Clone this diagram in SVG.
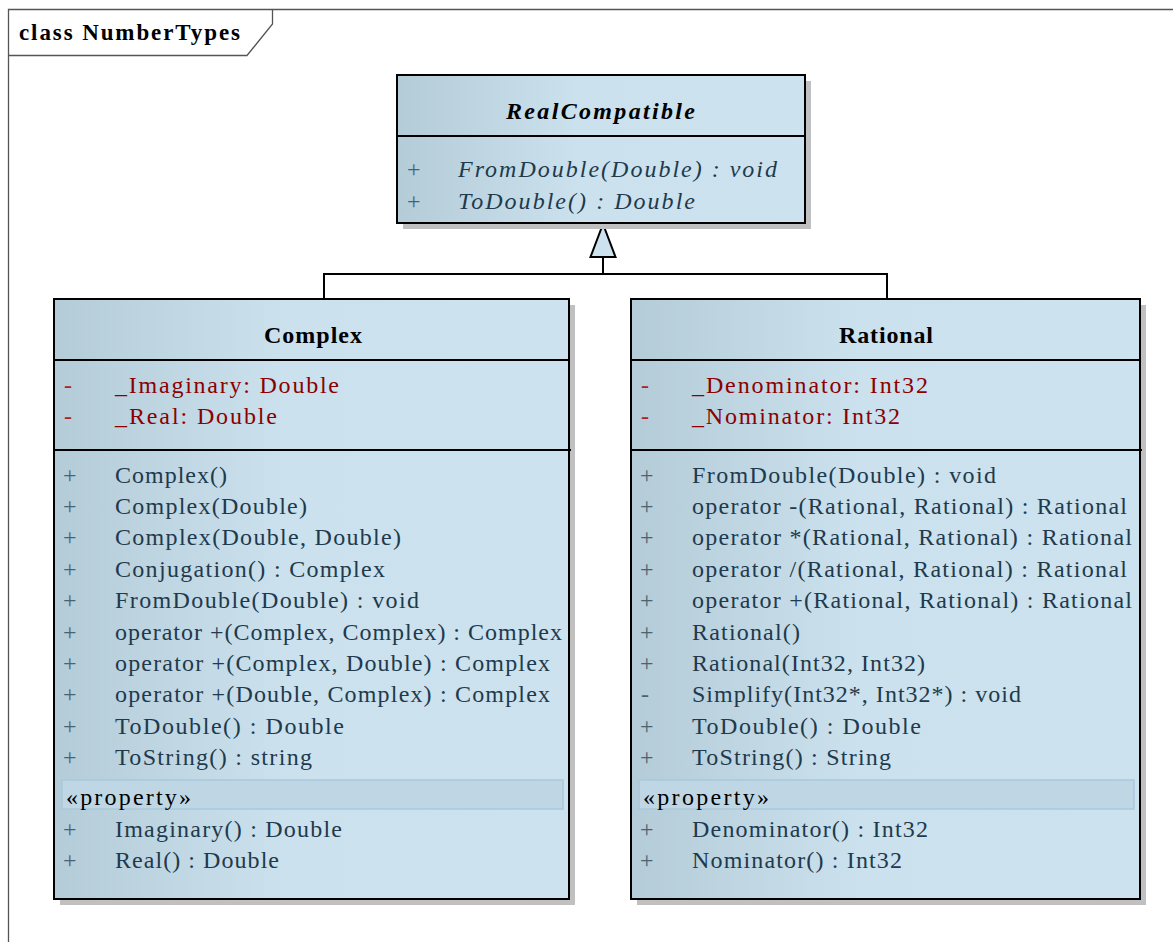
<svg xmlns="http://www.w3.org/2000/svg" width="1173" height="942" viewBox="0 0 1173 942">
  <defs>
    <linearGradient id="boxFill" x1="0" y1="0" x2="1" y2="0">
      <stop offset="0" stop-color="#b4cbd8"/>
      <stop offset="0.45" stop-color="#cbe1ee"/>
      <stop offset="1" stop-color="#cce2ef"/>
    </linearGradient>
  </defs>

  <rect width="1173" height="942" fill="#fff"/>

  <!-- diagram frame -->
  <g id="frame">
    <path d="M8.5,942 V9.5 H1173" fill="none" stroke="#555" stroke-width="1.3"/>
    <path d="M8.5,55.5 H247 L272.5,24 V9.5" fill="none" stroke="#555" stroke-width="1.3"/>
    <text x="19" y="40" style="font-family: 'Liberation Serif', serif; font-size: 23px; font-weight: bold" fill="#000" textLength="221" lengthAdjust="spacing">class NumberTypes</text>
  </g>

  <!-- generalization connectors -->
  <g id="connectors" stroke="#000" stroke-width="2">
    <path d="M324,299 V274 H887 V299" fill="none"/>
    <path d="M603,274 V257" fill="none"/>
    <polygon points="603,224 590.5,257 615.5,257" fill="#cce2ef"/>
  </g>

  <!-- interface RealCompatible -->
  <g id="RealCompatible">
    <rect x="403" y="81" width="408" height="148" fill="#c0c0c0"/>
    <rect x="397" y="75" width="408" height="148" fill="url(#boxFill)" stroke="#000" stroke-width="2"/>
    <line x1="397" y1="136" x2="805" y2="136" stroke="#000" stroke-width="2"/>
    <text x="506" y="119" style="font-family: 'Liberation Serif', serif; font-size: 24px; font-weight: bold; font-style: italic" fill="#000" textLength="189" lengthAdjust="spacing">RealCompatible</text>
    <text x="407" y="177" style="font-family: 'Liberation Serif', serif; font-size: 24px" fill="#4a6272">+</text>
    <text x="458" y="177" style="font-family: 'Liberation Serif', serif; font-size: 24px; font-style: italic" fill="#1e3a4c" textLength="319" lengthAdjust="spacing">FromDouble(Double) : void</text>
    <text x="407" y="209" style="font-family: 'Liberation Serif', serif; font-size: 24px" fill="#4a6272">+</text>
    <text x="458" y="209" style="font-family: 'Liberation Serif', serif; font-size: 24px; font-style: italic" fill="#1e3a4c" textLength="237" lengthAdjust="spacing">ToDouble() : Double</text>
  </g>

  <!-- class Complex -->
  <g id="Complex">
    <rect x="60" y="305" width="515" height="600" fill="#c0c0c0"/>
    <rect x="54" y="299" width="515" height="600" fill="url(#boxFill)" stroke="#000" stroke-width="2"/>
    <line x1="54" y1="360" x2="569" y2="360" stroke="#000" stroke-width="2"/>
    <line x1="54" y1="450" x2="571" y2="450" stroke="#000" stroke-width="2"/>
    <text x="264" y="343" style="font-family: 'Liberation Serif', serif; font-size: 24px; font-weight: bold" fill="#000" textLength="98" lengthAdjust="spacing">Complex</text>

    <text x="64" y="393" style="font-family: 'Liberation Serif', serif; font-size: 24px" fill="#b02020">-</text>
    <text x="115" y="393" style="font-family: 'Liberation Serif', serif; font-size: 24px" fill="#8b0000" textLength="224" lengthAdjust="spacing">_Imaginary: Double</text>
    <text x="64" y="424" style="font-family: 'Liberation Serif', serif; font-size: 24px" fill="#b02020">-</text>
    <text x="115" y="424" style="font-family: 'Liberation Serif', serif; font-size: 24px" fill="#8b0000" textLength="162" lengthAdjust="spacing">_Real: Double</text>

    <text x="63" y="483" style="font-family: 'Liberation Serif', serif; font-size: 24px" fill="#4a6272">+</text>
    <text x="115" y="483" style="font-family: 'Liberation Serif', serif; font-size: 24px" fill="#1e3a4c" textLength="112" lengthAdjust="spacing">Complex()</text>
    <text x="63" y="514" style="font-family: 'Liberation Serif', serif; font-size: 24px" fill="#4a6272">+</text>
    <text x="115" y="514" style="font-family: 'Liberation Serif', serif; font-size: 24px" fill="#1e3a4c" textLength="192" lengthAdjust="spacing">Complex(Double)</text>
    <text x="63" y="545" style="font-family: 'Liberation Serif', serif; font-size: 24px" fill="#4a6272">+</text>
    <text x="115" y="545" style="font-family: 'Liberation Serif', serif; font-size: 24px" fill="#1e3a4c" textLength="286" lengthAdjust="spacing">Complex(Double, Double)</text>
    <text x="63" y="577" style="font-family: 'Liberation Serif', serif; font-size: 24px" fill="#4a6272">+</text>
    <text x="115" y="577" style="font-family: 'Liberation Serif', serif; font-size: 24px" fill="#1e3a4c" textLength="270" lengthAdjust="spacing">Conjugation() : Complex</text>
    <text x="63" y="608" style="font-family: 'Liberation Serif', serif; font-size: 24px" fill="#4a6272">+</text>
    <text x="115" y="608" style="font-family: 'Liberation Serif', serif; font-size: 24px" fill="#1e3a4c" textLength="304" lengthAdjust="spacing">FromDouble(Double) : void</text>
    <text x="63" y="640" style="font-family: 'Liberation Serif', serif; font-size: 24px" fill="#4a6272">+</text>
    <text x="115" y="640" style="font-family: 'Liberation Serif', serif; font-size: 24px" fill="#1e3a4c" textLength="447" lengthAdjust="spacing">operator +(Complex, Complex) : Complex</text>
    <text x="63" y="671" style="font-family: 'Liberation Serif', serif; font-size: 24px" fill="#4a6272">+</text>
    <text x="115" y="671" style="font-family: 'Liberation Serif', serif; font-size: 24px" fill="#1e3a4c" textLength="435" lengthAdjust="spacing">operator +(Complex, Double) : Complex</text>
    <text x="63" y="702" style="font-family: 'Liberation Serif', serif; font-size: 24px" fill="#4a6272">+</text>
    <text x="115" y="702" style="font-family: 'Liberation Serif', serif; font-size: 24px" fill="#1e3a4c" textLength="435" lengthAdjust="spacing">operator +(Double, Complex) : Complex</text>
    <text x="63" y="734" style="font-family: 'Liberation Serif', serif; font-size: 24px" fill="#4a6272">+</text>
    <text x="115" y="734" style="font-family: 'Liberation Serif', serif; font-size: 24px" fill="#1e3a4c" textLength="229" lengthAdjust="spacing">ToDouble() : Double</text>
    <text x="63" y="765" style="font-family: 'Liberation Serif', serif; font-size: 24px" fill="#4a6272">+</text>
    <text x="115" y="765" style="font-family: 'Liberation Serif', serif; font-size: 24px" fill="#1e3a4c" textLength="197" lengthAdjust="spacing">ToString() : string</text>

    <rect x="62" y="780" width="501" height="29" fill="#bfd6e5" stroke="#aac8dc" stroke-width="1.5"/>
    <text x="66" y="805" style="font-family: 'Liberation Serif', serif; font-size: 24px" fill="#000" textLength="125" lengthAdjust="spacing">«property»</text>
    <text x="63" y="837" style="font-family: 'Liberation Serif', serif; font-size: 24px" fill="#4a6272">+</text>
    <text x="115" y="837" style="font-family: 'Liberation Serif', serif; font-size: 24px" fill="#1e3a4c" textLength="227" lengthAdjust="spacing">Imaginary() : Double</text>
    <text x="63" y="868" style="font-family: 'Liberation Serif', serif; font-size: 24px" fill="#4a6272">+</text>
    <text x="115" y="868" style="font-family: 'Liberation Serif', serif; font-size: 24px" fill="#1e3a4c" textLength="164" lengthAdjust="spacing">Real() : Double</text>
  </g>

  <!-- class Rational -->
  <g id="Rational">
    <rect x="637" y="305" width="509" height="600" fill="#c0c0c0"/>
    <rect x="631" y="299" width="509" height="600" fill="url(#boxFill)" stroke="#000" stroke-width="2"/>
    <line x1="631" y1="360" x2="1140" y2="360" stroke="#000" stroke-width="2"/>
    <line x1="631" y1="450" x2="1142" y2="450" stroke="#000" stroke-width="2"/>
    <text x="839" y="343" style="font-family: 'Liberation Serif', serif; font-size: 24px; font-weight: bold" fill="#000" textLength="94" lengthAdjust="spacing">Rational</text>

    <text x="641" y="393" style="font-family: 'Liberation Serif', serif; font-size: 24px" fill="#b02020">-</text>
    <text x="692" y="393" style="font-family: 'Liberation Serif', serif; font-size: 24px" fill="#8b0000" textLength="236" lengthAdjust="spacing">_Denominator: Int32</text>
    <text x="641" y="424" style="font-family: 'Liberation Serif', serif; font-size: 24px" fill="#b02020">-</text>
    <text x="692" y="424" style="font-family: 'Liberation Serif', serif; font-size: 24px" fill="#8b0000" textLength="208" lengthAdjust="spacing">_Nominator: Int32</text>

    <text x="640" y="483" style="font-family: 'Liberation Serif', serif; font-size: 24px" fill="#4a6272">+</text>
    <text x="692" y="483" style="font-family: 'Liberation Serif', serif; font-size: 24px" fill="#1e3a4c" textLength="304" lengthAdjust="spacing">FromDouble(Double) : void</text>
    <text x="640" y="514" style="font-family: 'Liberation Serif', serif; font-size: 24px" fill="#4a6272">+</text>
    <text x="692" y="514" style="font-family: 'Liberation Serif', serif; font-size: 24px" fill="#1e3a4c" textLength="435" lengthAdjust="spacing">operator -(Rational, Rational) : Rational</text>
    <text x="640" y="545" style="font-family: 'Liberation Serif', serif; font-size: 24px" fill="#4a6272">+</text>
    <text x="692" y="545" style="font-family: 'Liberation Serif', serif; font-size: 24px" fill="#1e3a4c" textLength="440" lengthAdjust="spacing">operator *(Rational, Rational) : Rational</text>
    <text x="640" y="577" style="font-family: 'Liberation Serif', serif; font-size: 24px" fill="#4a6272">+</text>
    <text x="692" y="577" style="font-family: 'Liberation Serif', serif; font-size: 24px" fill="#1e3a4c" textLength="435" lengthAdjust="spacing">operator /(Rational, Rational) : Rational</text>
    <text x="640" y="608" style="font-family: 'Liberation Serif', serif; font-size: 24px" fill="#4a6272">+</text>
    <text x="692" y="608" style="font-family: 'Liberation Serif', serif; font-size: 24px" fill="#1e3a4c" textLength="440" lengthAdjust="spacing">operator +(Rational, Rational) : Rational</text>
    <text x="640" y="640" style="font-family: 'Liberation Serif', serif; font-size: 24px" fill="#4a6272">+</text>
    <text x="692" y="640" style="font-family: 'Liberation Serif', serif; font-size: 24px" fill="#1e3a4c" textLength="108" lengthAdjust="spacing">Rational()</text>
    <text x="640" y="671" style="font-family: 'Liberation Serif', serif; font-size: 24px" fill="#4a6272">+</text>
    <text x="692" y="671" style="font-family: 'Liberation Serif', serif; font-size: 24px" fill="#1e3a4c" textLength="233" lengthAdjust="spacing">Rational(Int32, Int32)</text>
    <text x="641" y="702" style="font-family: 'Liberation Serif', serif; font-size: 24px" fill="#4a6272">-</text>
    <text x="692" y="702" style="font-family: 'Liberation Serif', serif; font-size: 24px" fill="#1e3a4c" textLength="329" lengthAdjust="spacing">Simplify(Int32*, Int32*) : void</text>
    <text x="640" y="734" style="font-family: 'Liberation Serif', serif; font-size: 24px" fill="#4a6272">+</text>
    <text x="692" y="734" style="font-family: 'Liberation Serif', serif; font-size: 24px" fill="#1e3a4c" textLength="229" lengthAdjust="spacing">ToDouble() : Double</text>
    <text x="640" y="765" style="font-family: 'Liberation Serif', serif; font-size: 24px" fill="#4a6272">+</text>
    <text x="692" y="765" style="font-family: 'Liberation Serif', serif; font-size: 24px" fill="#1e3a4c" textLength="199" lengthAdjust="spacing">ToString() : String</text>

    <rect x="639" y="780" width="495" height="29" fill="#bfd6e5" stroke="#aac8dc" stroke-width="1.5"/>
    <text x="643" y="805" style="font-family: 'Liberation Serif', serif; font-size: 24px" fill="#000" textLength="126" lengthAdjust="spacing">«property»</text>
    <text x="640" y="837" style="font-family: 'Liberation Serif', serif; font-size: 24px" fill="#4a6272">+</text>
    <text x="692" y="837" style="font-family: 'Liberation Serif', serif; font-size: 24px" fill="#1e3a4c" textLength="236" lengthAdjust="spacing">Denominator() : Int32</text>
    <text x="640" y="868" style="font-family: 'Liberation Serif', serif; font-size: 24px" fill="#4a6272">+</text>
    <text x="692" y="868" style="font-family: 'Liberation Serif', serif; font-size: 24px" fill="#1e3a4c" textLength="210" lengthAdjust="spacing">Nominator() : Int32</text>
  </g>
</svg>
